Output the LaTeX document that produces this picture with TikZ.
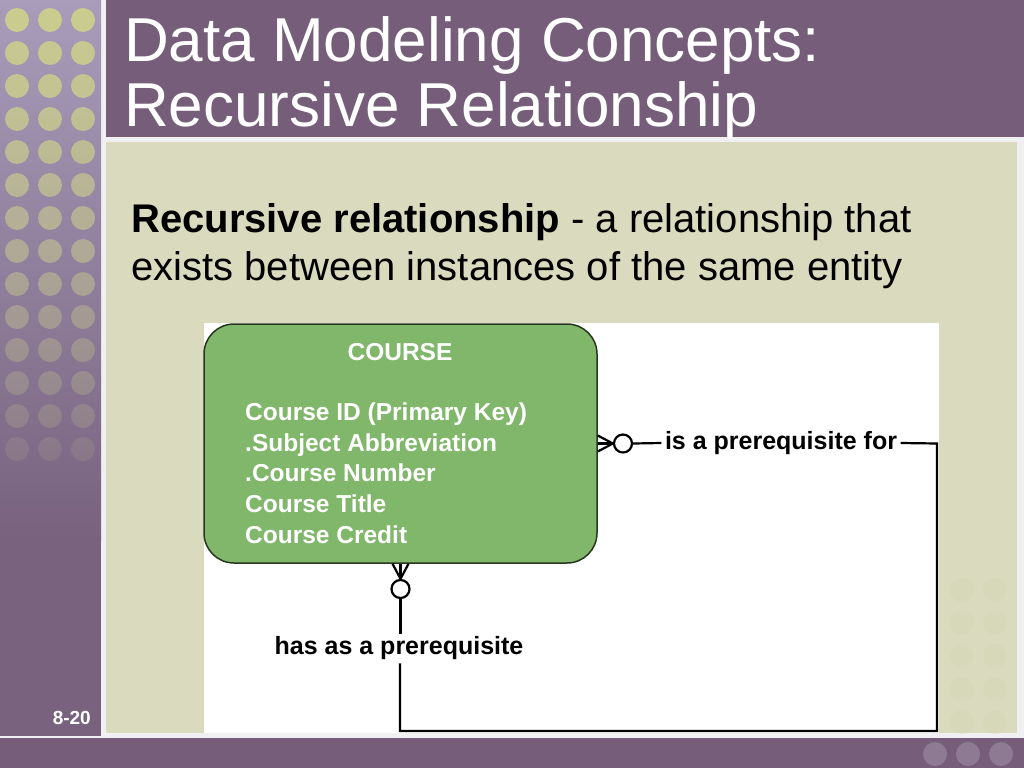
\documentclass[tikz,border=0pt]{standalone}
\usepackage{fontspec}
\setmainfont{Liberation Sans}
\definecolor{titlepurple}{RGB}{118,94,122}
\definecolor{leftTop}{RGB}{168,156,186}
\definecolor{leftBot}{RGB}{120,98,126}
\definecolor{contentbg}{RGB}{218,219,190}
\definecolor{dotcol}{RGB}{203,206,142}
\definecolor{boxgreen}{RGB}{128,183,107}
\definecolor{boxedge}{RGB}{40,55,32}
\definecolor{gapcol}{RGB}{240,239,241}
\definecolor{botdot}{RGB}{143,122,147}
\definecolor{faintdot}{RGB}{212,213,180}
\tikzset{
  conn/.style={line width=2.2pt, black},
  card/.style={circle, draw=black, line width=2.2pt, fill=white, minimum size=18pt, inner sep=0pt},
  attr/.style={anchor=base west, text=white, font=\fontsize{24.5}{28}\selectfont\bfseries, inner sep=0pt},
  rel/.style={font=\fontsize{25}{28}\selectfont\bfseries, inner sep=3.5pt, fill=white},
}
\begin{document}
\begin{tikzpicture}[x=1pt,y=-1pt]
\useasboundingbox (0,0) rectangle (1024,768);
% background
\fill[gapcol] (0,0) rectangle (1024,768);
% left bar
\shade[top color=leftTop, bottom color=leftBot] (0,0) rectangle (101,540);
\fill[leftBot] (0,539) rectangle (101,736);
\foreach \i in {0,...,13} {
  \pgfmathsetmacro{\op}{max(0.08,0.97-0.064*\i)}
  \foreach \cx in {17,50,83} {
    \fill[dotcol, opacity=\op] (\cx,20+33*\i) circle (12);
  }
}
\node[anchor=base east, text=white, font=\fontsize{19}{22}\selectfont\bfseries, inner sep=0pt] (pnum) at (91,724) {8-20};
% title bar
\fill[titlepurple] (106,0) rectangle (1024,137);
\node[anchor=base west, text=white, font=\fontsize{62}{66}\selectfont, inner sep=0pt] (t1) at (124,62) {Data Modeling Concepts:};
\node[anchor=base west, text=white, font=\fontsize{62}{66}\selectfont, inner sep=0pt] (t2) at (124,126) {Recursive Relationship};
% content area
\fill[contentbg] (106,142) rectangle (1017,733);
\foreach \j in {0,...,4} {
  \foreach \cx in {962,995} {
    \fill[faintdot, opacity=0.35] (\cx,590+33*\j) circle (12);
  }
}
% bottom bar
\fill[titlepurple] (0,738) rectangle (1024,768);
\foreach \cx in {935,968,1001} {
  \fill[botdot] (\cx,754) circle (12);
}
% body text
\node[anchor=base west, font=\fontsize{40}{44}\selectfont, inner sep=0pt] (b1) at (131,232) {\textbf{Recursive relationship} - a relationship that};
\node[anchor=base west, font=\fontsize{40}{44}\selectfont, inner sep=0pt] (b2) at (131,280) {exists between instances of the same entity};
% diagram area
\fill[white] (204,323) rectangle (939,733);
\node[draw=boxedge, line width=1.5pt, fill=boxgreen, rounded corners=30pt, minimum width=393pt, minimum height=239pt, inner sep=0pt] (course) at (400.5,443.5) {};
\node[anchor=base, text=white, font=\fontsize{24.5}{28}\selectfont\bfseries, inner sep=0pt] (cname) at (400,360) {COURSE};
\node[attr] (a1) at (245,420) {Course ID (Primary Key)};
\node[attr] (a2) at (245,451) {.Subject Abbreviation};
\node[attr] (a3) at (245,481) {.Course Number};
\node[attr] (a4) at (245,512) {Course Title};
\node[attr] (a5) at (245,543) {Course Credit};
% right relationship
\node[card] (c1) at (623,443.5) {};
\draw[conn] (course.east) -- (c1.west);
\draw[conn] ([yshift=-8pt]course.east) -- (c1.west);
\draw[conn] ([yshift=8pt]course.east) -- (c1.west);
\node[rel] (isa) at (781,443) {is a prerequisite for};
\draw[conn] (c1.east) -- (isa.west);
\coordinate (tr) at (937,443.5);
\coordinate (br) at (937,731);
\coordinate (bl) at (400,731);
% bottom relationship
\node[card] (c2) at (400.5,589) {};
\draw[conn] (course.south) -- (c2.north);
\draw[conn] ([xshift=-8pt]course.south) -- (c2.north);
\draw[conn] ([xshift=8pt]course.south) -- (c2.north);
\node[rel] (has) at (399,648) {has as a prerequisite};
\draw[conn] (c2.south) -- ([yshift=-1pt]has.north -| c2.south);
\draw[conn, line join=miter] (isa.east) -- (tr) -- (br) -- (bl) -- (has.south -| bl);
\end{tikzpicture}
\end{document}
